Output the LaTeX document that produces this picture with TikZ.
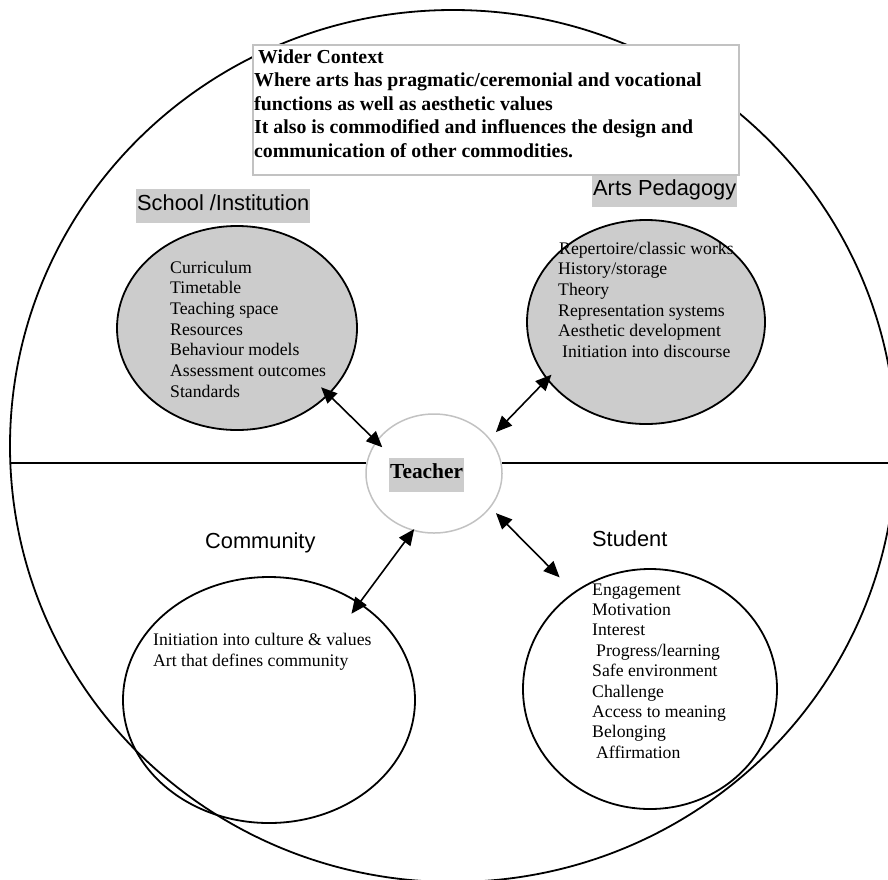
\documentclass[tikz,border=0pt]{standalone}
\usepackage{fontspec}
\setmainfont{Liberation Serif}
\setsansfont{Liberation Sans}
\usetikzlibrary{shapes.geometric,arrows.meta,positioning}
\definecolor{panel}{gray}{0.8}
\definecolor{rim}{gray}{0.76}
\tikzset{
	zone/.style={ellipse,draw,line width=1.8pt,inner sep=0pt,outer sep=0pt},
	shadedzone/.style={zone,fill=panel},
	tab/.style={fill=panel,anchor=base west,inner xsep=1pt,font=\sffamily\fontsize{21.8}{24}\selectfont},
	heading/.style={anchor=base west,inner sep=0pt,font=\sffamily\fontsize{21.8}{24}\selectfont},
	entry/.style={anchor=base west,inner sep=0pt,font=\fontsize{17.7}{20.7}\selectfont},
	ctxline/.style={anchor=base west,inner sep=0pt,font=\bfseries\fontsize{19.8}{23.5}\selectfont},
	contextbox/.style={draw=rim,line width=1.5pt,fill=white,anchor=north west,inner sep=0pt},
	divider/.style={line width=1.5pt},
	link/.style={{Triangle[length=16pt,width=14pt]}-{Triangle[length=16pt,width=14pt]},line width=1.6pt}
}
\begin{document}
\begin{tikzpicture}[x=1pt,y=-1pt]
	\useasboundingbox (0,0) rectangle (888,879);
	
	%outer circle
	\node[zone,minimum width=886pt,minimum height=872pt] (wider) at (453,446) {};
	\coordinate (midleft) at (10,463);
	\coordinate (midright) at (888,463);
	
	%teacher in the middle
	\node[ellipse,draw=rim,line width=1.5pt,inner sep=0pt,outer sep=0pt,
		minimum width=136pt,minimum height=119pt] (teacher) at (434,473.5) {};
	\draw[divider] (midleft) -- (midleft -| teacher.west);		%left half
	\draw[divider] (midright -| teacher.east) -- (midright);	%right half
	\node[tab,font=\bfseries\fontsize{21.4}{24}\selectfont,text height=14pt,text depth=8pt,
		inner ysep=6pt] (teacherlabel) at (389,478) {Teacher\hspace{13pt}};
	
	%wider context box
	\node[contextbox,minimum width=486pt,minimum height=130pt] (context) at (252,44) {};
	\foreach \line [count=\i] in {\hspace*{4pt}Wider Context,
		Where arts has pragmatic/ceremonial and vocational,
		functions as well as aesthetic values,
		It also is commodified and influences the design and,
		communication of other commodities.}
		\node[ctxline] (ctx\i) at (254,{63+23.5*(\i-1)}) {\line};
	
	%upper ellipses
	\node[shadedzone,minimum width=240pt,minimum height=204pt] (school) at (237,328) {};
	\node[shadedzone,minimum width=238pt,minimum height=204pt] (arts) at (646,322) {};
	\node[tab,text height=16pt,text depth=8pt,inner ysep=5pt] (schoolhead) at (136,210) {School /Institution\hspace{16pt}};
	\node[tab,text height=14pt,text depth=7pt,inner ysep=5pt] (artshead) at (592,195) {Arts Pedagogy\hspace{49pt}};
	\foreach \line [count=\i] in {Curriculum,Timetable,Teaching space,Resources,
		Behaviour models,Assessment outcomes,Standards}
		\node[entry] (sch\i) at (170,{273+20.7*(\i-1)}) {\line};
	\foreach \line [count=\i] in {\hspace*{1pt}Repertoire/classic works,History/storage,Theory,
		Representation systems,Aesthetic development,\hspace*{4pt}Initiation into discourse}
		\node[entry] (ped\i) at (558,{254+20.7*(\i-1)}) {\line};
	
	%lower ellipses
	\node[zone,minimum width=292pt,minimum height=246pt] (community) at (269,700) {};
	\node[zone,minimum width=254pt,minimum height=240pt] (student) at (650,689) {};
	\node[heading] (communityhead) at (205,548) {Community};
	\node[heading] (studenthead) at (592,546) {Student};
	\foreach \line [count=\i] in {Initiation into culture \& values,Art that defines community}
		\node[entry] (com\i) at (153,{645+21*(\i-1)}) {\line};
	\foreach \line [count=\i] in {Engagement,Motivation,Interest,\hspace*{4pt}Progress/learning,
		Safe environment,Challenge,Access to meaning,Belonging,\hspace*{4pt}Affirmation}
		\node[entry] (stu\i) at (592,{595+20.4*(\i-1)}) {\line};
	
	%arrows to the teacher
	\draw[link,shorten <=-10pt,shorten >=-8pt] (school.-36) -- (teacher.151);		%NW
	\draw[link,shorten <=-6pt,shorten >=9.5pt] (arts.210) -- (teacher.32.5);		%NE
	\draw[link,shorten <=-13pt,shorten >=-1.4pt] (community.47) -- (teacher.250);	%SW
	\draw[link,shorten <=8.4pt,shorten >=21.3pt] (teacher.-31) -- (student.128);	%SE
	
\end{tikzpicture}
\end{document}
